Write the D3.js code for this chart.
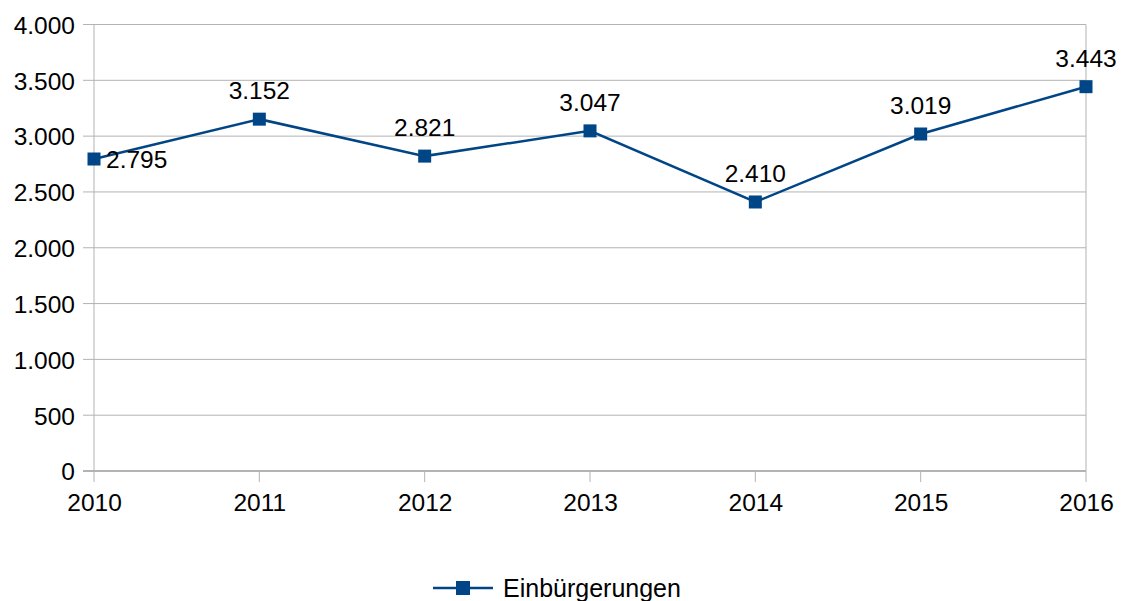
<!DOCTYPE html>
<html>
<head>
<meta charset="utf-8">
<script src="https://cdn.jsdelivr.net/npm/d3@7"></script>
<style>
  body { margin: 0; background: #fff; }
  text { font-family: "Liberation Sans", Arial, sans-serif; fill: #000; }
</style>
</head>
<body>
<svg id="chart" width="1122" height="601"></svg>
<script>
// data
var years = ["2010", "2011", "2012", "2013", "2014", "2015", "2016"];
var einbuergerungen = [2795, 3152, 2821, 3047, 2410, 3019, 3443];
var yTicks = [0, 500, 1000, 1500, 2000, 2500, 3000, 3500, 4000];
var seriesName = "Einbürgerungen";

var blue = "#004586", grid = "#b3b3b3";
var fontSize = "24.5px";
var plotLeft = 94, plotRight = 1086, plotTop = 24.5, plotBottom = 471;

var svg = d3.select("#chart");
var fmt = d3.formatLocale({ decimal: ",", thousands: ".", grouping: [3], currency: ["", "€"] }).format(",d");

var x = d3.scalePoint().domain(years).range([plotLeft, plotRight]);
var y = d3.scaleLinear().domain([0, 4000]).range([plotBottom, plotTop]);

// horizontal grid + y ticks
svg.append("g").selectAll("line").data(yTicks).join("line")
    .attr("x1", plotLeft - 11).attr("x2", plotRight)
    .attr("y1", function(d) { return y(d); }).attr("y2", function(d) { return y(d); })
    .attr("stroke", grid).attr("stroke-width", function(d) { return d == 0 ? 2 : 1; });

var yAxis = svg.append("g").attr("transform", "translate(" + plotLeft + ",0)")
    .call(d3.axisLeft(y).tickValues(yTicks).tickSize(11).tickPadding(8).tickFormat(fmt));
yAxis.select(".domain").remove();
yAxis.selectAll("line").remove();
yAxis.selectAll("text").style("font-size", fontSize).attr("dy", "0.36em");

// vertical lines at each year
svg.append("g").selectAll("line").data(years).join("line")
    .attr("x1", function(d) { return x(d); }).attr("x2", function(d) { return x(d); })
    .attr("y1", function(d, i) { return (i == 0 || i == years.length - 1) ? plotTop : plotBottom; })
    .attr("y2", plotBottom + 11)
    .attr("stroke", grid).attr("stroke-width", 1);

// x axis labels
var xAxis = svg.append("g").attr("transform", "translate(0," + plotBottom + ")")
    .call(d3.axisBottom(x).tickSize(0).tickPadding(23));
xAxis.select(".domain").remove();
xAxis.selectAll("text").style("font-size", fontSize);

// line
var line = d3.line()
    .x(function(d, i) { return x(years[i]); })
    .y(function(d) { return y(d); });

svg.append("path").datum(einbuergerungen)
    .attr("d", line).attr("fill", "none")
    .attr("stroke", blue).attr("stroke-width", 2.5);

svg.append("g").selectAll("rect").data(einbuergerungen).join("rect")
    .attr("x", function(d, i) { return x(years[i]) - 6.5; })
    .attr("y", function(d) { return y(d) - 6.5; })
    .attr("width", 13).attr("height", 13).attr("fill", blue);

// data labels
svg.append("g").selectAll("text").data(einbuergerungen).join("text")
    .attr("x", function(d, i) { return i == 0 ? x(years[i]) + 12 : x(years[i]); })
    .attr("y", function(d, i) { return i == 0 ? y(d) + 9 : y(d) - 20; })
    .attr("text-anchor", function(d, i) { return i == 0 ? "start" : "middle"; })
    .style("font-size", fontSize)
    .text(function(d) { return fmt(d); });

// legend
var lg = svg.append("g").attr("transform", "translate(433,588)");
lg.append("line").attr("x1", 0).attr("x2", 60).attr("y1", 0).attr("y2", 0)
    .attr("stroke", blue).attr("stroke-width", 2.5);
lg.append("rect").attr("x", 23).attr("y", -7).attr("width", 14).attr("height", 14).attr("fill", blue);
lg.append("text").attr("x", 70).attr("y", 9).style("font-size", "25px").text(seriesName);
</script>
</body>
</html>
